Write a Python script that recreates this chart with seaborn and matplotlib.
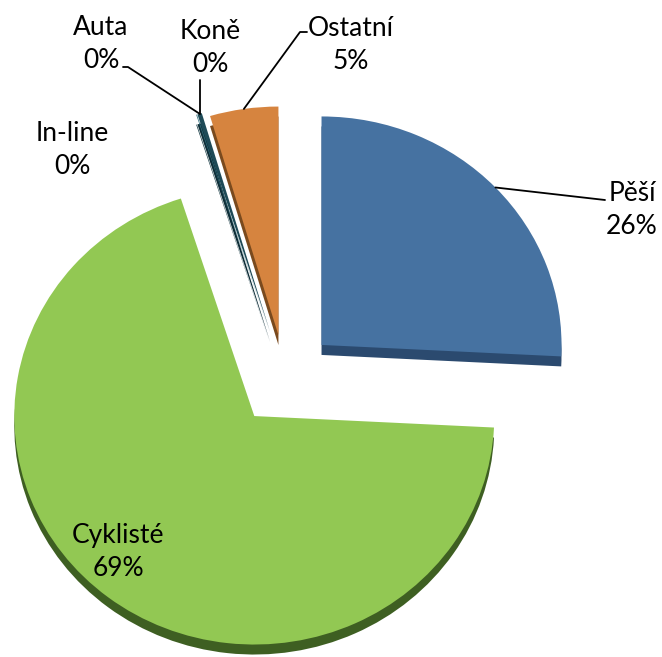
import numpy as np
import seaborn as sns
import matplotlib.pyplot as plt

### data ###
kategorie = ['Pěší', 'Cyklisté', 'In-line', 'Auta', 'Koně', 'Ostatní']
podil = [25.8, 69.25, 0.0, 0.05, 0.3, 4.6]

barvy = ['#4672A1', '#92C853', '#7E62A0', '#2F6E7E', '#1E4A57', '#D6843F']
barvy_tmave = ['#2B4A6F', '#3E5F22', '#4A3A60', '#173D46', '#0F2E38', '#7A4A1E']
explode = [0.21, 0.21, 0.21, 0.21, 0.21, 0.19]

sns.set_style('white')
plt.rcParams['font.family'] = ['Lato', 'DejaVu Sans']

W, H = 662, 657
R = 240          # polomer v pixelech
SQ = 0.952       # lehke "3D" zplosteni
CX, CY = 285, 279  # stred kolace (pixely od leveho dolniho rohu)

fig = plt.figure(figsize=(W / 100, H / 100), dpi=100)
ax = fig.add_axes([0, 0, 1, 1])


def px(x, ytop):
    # pixely z obrazku (y od shora) -> data souradnice
    return (x - CX) / R, ((H - ytop) - CY) / (R * SQ)


# "hloubka" kolace - tmavsi kopie posunuta dolu
hloubka = 10 / (R * SQ)
ax.pie(podil, colors=barvy_tmave, startangle=90, counterclock=False,
       explode=explode, center=(0, -hloubka), wedgeprops=dict(linewidth=0))
wedges, _ = ax.pie(podil, colors=barvy, startangle=90, counterclock=False,
                   explode=explode, wedgeprops=dict(linewidth=0))

ax.set_aspect('auto')
ax.set_xlim(-CX / R, (W - CX) / R)
ax.set_ylim(-CY / (R * SQ), (H - CY) / (R * SQ))
ax.axis('off')


def kotva(w, frac=0.5):
    t = np.deg2rad(w.theta1 + frac * (w.theta2 - w.theta1))
    return w.center[0] + w.r * np.cos(t), w.center[1] + w.r * np.sin(t)


popisky = {kat: f'{kat}\n{p:.0f}%' for kat, p in zip(kategorie, podil)}
pozice = {'Pěší': (632, 210), 'Cyklisté': (118, 552), 'In-line': (72, 150),
          'Auta': (101, 44), 'Koně': (210, 48), 'Ostatní': (351, 45)}
for kat in kategorie:
    x, y = px(*pozice[kat])
    ax.text(x, y, popisky[kat], ha='center', va='center', fontsize=19,
            linespacing=1.42, color='black')

# vodici cary
ax_ = kotva(wedges[0])
p1 = px(605, 200)
ax.plot([p1[0], ax_[0]], [p1[1], ax_[1]], color='black', lw=1.3)

k = kotva(wedges[4])
for body in ([(123, 67), (128, 67)], [(k[0] * R + CX, 80)]):
    xs = [px(*b)[0] for b in body] + [k[0]]
    ys = [px(*b)[1] for b in body] + [k[1]]
    ax.plot(xs, ys, color='black', lw=1.3)

o = kotva(wedges[5])
xs = [px(307, 32)[0], px(300, 32)[0], o[0]]
ys = [px(307, 32)[1], px(300, 32)[1], o[1]]
ax.plot(xs, ys, color='black', lw=1.3)

plt.savefig('out.png', dpi=100)
